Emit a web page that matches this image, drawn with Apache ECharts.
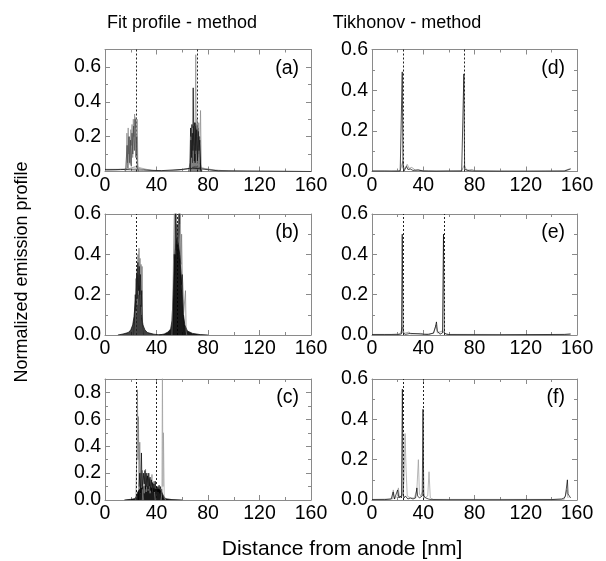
<!DOCTYPE html>
<html><head><meta charset="utf-8">
<script src="https://cdn.jsdelivr.net/npm/echarts@6/dist/echarts.min.js"></script>
<style>html,body{margin:0;padding:0;background:#fff}#c{width:606px;height:561px}</style>
</head><body><div id="c"></div><script>
// ---- axis / text data ----
const xTicks = [0, 40, 80, 120, 160];
const colTitles = ['Fit profile - method', 'Tikhonov - method'];
const panelLabels = ['(a)', '(b)', '(c)', '(d)', '(e)', '(f)'];
const yMaxes = [0.7, 0.6, 0.9, 0.6, 0.6, 0.6];
const xName = 'Distance from anode [nm]';
const yName = 'Normalized emission profile';

// ---- dashed reference positions (nm) ----
const refA = [24, 72];
const refB = [24, 56];
const refC = [24, 40];
const refD = [24, 72];
const refE = [24, 56];
const refF = [24, 40];

// ---- panel (a) ----
const aBroad1 = [[0,0.008],[8,0.01],[16,0.015],[22,0.02],[26,0.018],[32,0.01],[40,0.004],[50,0.004],[58,0.01],[66,0.018],[72,0.022],[78,0.016],[86,0.008],[96,0.003],[110,0.001],[160,0]];
const aBroad2 = [[0,0.005],[10,0.008],[18,0.014],[24,0.03],[28,0.02],[36,0.006],[46,0.002],[56,0.006],[64,0.014],[70,0.03],[76,0.02],[84,0.006],[100,0.001],[160,0]];
const aBroad3 = [[0,0.012],[12,0.012],[20,0.01],[30,0.008],[44,0.005],[60,0.012],[68,0.02],[74,0.015],[88,0.004],[160,0]];
const aPk1a = [[15,0],[16.5,0.02],[17,0.22],[17.5,0.05],[18,0.25],[18.5,0.1],[19,0.2],[19.5,0.04],[20,0.24],[20.5,0.15],[21,0.27],[21.5,0.08],[22,0.3],[22.5,0.2],[23,0.33],[23.5,0.25],[24,0.31],[24.5,0.1],[25,0.3],[25.5,0.05],[26,0]];
const aPk1b = [[16,0],[17.2,0.15],[17.8,0.02],[18.6,0.2],[19.2,0.05],[19.8,0.18],[20.4,0.03],[21,0.22],[21.6,0.1],[22.2,0.26],[22.8,0.12],[23.4,0.3],[24,0.08],[24.6,0.2],[25.2,0.02],[26,0]];
const aPk2a = [[65,0],[66,0.05],[66.5,0.25],[67,0.1],[67.5,0.27],[68,0.05],[68.5,0.48],[69,0.15],[69.5,0.28],[70,0.05],[70.5,0.26],[71,0.1],[71.5,0.27],[72,0.08],[72.5,0.25],[73,0.1],[73.5,0.2],[74,0.05],[75,0]];
const aPk2b = [[66,0],[66.8,0.2],[67.3,0.02],[68,0.25],[68.6,0.05],[69.2,0.26],[69.8,0.1],[70.5,0.67],[71,0.05],[71.6,0.3],[72.2,0.02],[72.8,0.28],[73.4,0.05],[74.2,0.35],[74.8,0.02],[75.5,0]];
const aPk2c = [[66.2,0],[66.7,0.18],[67.2,0.08],[67.8,0.22],[68.3,0.12],[68.9,0.26],[69.4,0.06],[70,0.28],[70.6,0.12],[71.2,0.24],[71.8,0.06],[72.4,0.23],[73,0.12],[73.6,0.18],[74.2,0.02],[74.8,0]];
const aPk2d = [[66.4,0],[67,0.12],[67.4,0.2],[68,0.1],[68.4,0.18],[69,0.22],[69.6,0.15],[70.2,0.2],[70.8,0.25],[71.4,0.16],[72,0.2],[72.6,0.14],[73.2,0.2],[73.8,0.1],[74.5,0]];

// ---- panel (b) ----
const bBase1 = [[10,0],[14,0.005],[18,0.012],[20,0.025],[21.5,0.05],[22.5,0.09],[23.5,0.16],[24.5,0.24],[25.5,0.3],[26.5,0.26],[27.5,0.17],[28.5,0.09],[29.5,0.05],[31,0.025],[33,0.012],[38,0.004],[44,0]];
const bPk1a = [[23,0],[23.6,0.15],[24,0.28],[24.4,0.1],[24.8,0.33],[25.2,0.15],[25.6,0.4],[26,0.2],[26.4,0.43],[26.8,0.25],[27.2,0.38],[27.6,0.15],[28,0.35],[28.4,0.1],[28.8,0.34],[29.2,0.05],[30,0]];
const bPk1b = [[22.5,0],[23.5,0.2],[24,0.12],[24.6,0.3],[25,0.18],[25.5,0.36],[26,0.22],[26.6,0.34],[27,0.2],[27.5,0.3],[28,0.14],[28.5,0.22],[29,0.06],[30,0]];
const bBase2 = [[42,0],[46,0.005],[49,0.015],[51,0.03],[52,0.07],[53,0.2],[54,0.38],[55,0.45],[56,0.48],[57,0.45],[58,0.4],[59,0.3],[60,0.2],[61,0.1],[62,0.05],[64,0.02],[68,0.008],[74,0.002],[80,0]];
const bPk2a = [[52,0],[53,0.3],[53.5,0.5],[54,0.65],[54.5,0.4],[55,0.55],[55.5,0.62],[56,0.45],[57,0.5],[57.5,0.65],[58,0.55],[58.5,0.62],[59,0.35],[59.5,0.5],[60,0.3],[60.5,0.25],[61,0.1],[62.5,0.22],[63,0.02],[63.5,0]];
const bPk2b = [[53,0],[53.8,0.4],[54.3,0.3],[54.8,0.62],[55.3,0.42],[56,0.55],[56.5,0.38],[57,0.45],[57.6,0.62],[58.2,0.4],[58.8,0.35],[59.4,0.25],[60,0.3],[60.6,0.12],[61.5,0]];

// ---- panel (c) ----
const cBase = [[15,0],[20,0.005],[23,0.01],[24.5,0.03],[25.5,0.06],[27,0.08],[30,0.1],[33,0.1],[36,0.09],[39,0.08],[42,0.08],[44,0.06],[45.5,0.03],[47,0.01],[52,0.003],[60,0]];
const cSpk1 = [[24,0],[24.8,0.4],[25.2,0.82],[25.6,0.3],[26,0.62],[26.4,0.1],[27,0.43],[27.5,0.05],[28,0.2],[28.5,0.1],[29,0.22],[29.5,0.05],[30,0]];
const cSpk2 = [[26,0],[27,0.2],[27.6,0.05],[28.3,0.35],[28.8,0.08],[29.8,0.2],[30.5,0.12],[31,0.22],[31.5,0.08],[32,0.2],[32.5,0.1],[33,0.18],[33.5,0.08],[34,0.2],[34.5,0.1],[35,0.17],[35.5,0.07],[36,0.15],[36.5,0.06],[37,0.13],[37.5,0.06],[38,0.12],[38.5,0.06],[39,0.14],[39.5,0.07],[40,0.1],[40.5,0.06],[41,0.1],[41.5,0.06],[42,0.11],[42.5,0.05],[43,0.1],[43.5,0.06],[44,0.08],[44.5,0.02],[45,0]];
const cSpk3 = [[43.5,0],[44.2,0.05],[44.6,0.95],[45,0.1],[45.4,0.5],[46,0.02],[47,0]];
const cSpk4 = [[29,0],[30,0.18],[30.5,0.05],[31.5,0.23],[32,0.06],[33,0.2],[33.5,0.07],[34.5,0.16],[35,0.05],[36.5,0.19],[37,0.06],[38,0.14],[38.5,0.05],[39,0]];

// ---- panel (d) ----
const dT1 = [[0,0.002],[10,0.002],[20,0.001],[22,0.002],[23,0.01],[23.6,0.49],[24.2,0.02],[25,0.003],[26,0.01],[27,0.025],[28,0.01],[30,0.012],[32,0.005],[36,0.008],[40,0.002],[50,0.001],[60,0.002],[70,0.002],[71,0.01],[71.7,0.48],[72.3,0.01],[73,0.002],[76,0.004],[80,0.002],[100,0.001],[150,0.002],[154,0.01],[155,0.012]];
const dT2 = [[0,0.003],[15,0.003],[22,0.005],[24,0.05],[25,0.01],[26,0.02],[27.5,0.035],[29,0.015],[31,0.02],[34,0.006],[44,0.004],[60,0.003],[70,0.004],[72,0.03],[74,0.005],[78,0.01],[80,0.004],[120,0.002],[150,0.003],[155,0.015]];

// ---- panel (e) ----
const eT1 = [[0,0.002],[10,0.002],[20,0.002],[23,0.005],[23.6,0.5],[24.2,0.01],[26,0.003],[30,0.008],[31,0.002],[40,0.004],[44,0.002],[48,0.01],[49.5,0.04],[50.3,0.065],[51,0.02],[53,0.004],[55,0.01],[55.8,0.5],[56.4,0.01],[58,0.004],[60,0.002],[100,0.001],[150,0.003],[155,0.005]];
const eT2 = [[0,0.003],[15,0.003],[22,0.006],[24,0.04],[25,0.008],[29,0.015],[30,0.005],[38,0.008],[41,0.004],[48,0.008],[50,0.05],[51,0.01],[55,0.02],[57,0.008],[60,0.003],[150,0.002],[155,0.004]];

// ---- panel (f) ----
const fT1 = [[0,0.002],[10,0.002],[15,0.005],[16.5,0.04],[17.5,0.005],[19,0.01],[20,0.05],[21,0.01],[22,0.02],[23,0.01],[23.7,0.55],[24.3,0.02],[25,0.01],[26,0.02],[28,0.005],[30,0.01],[32,0.005],[34,0.01],[35,0.06],[35.6,0.02],[37,0.01],[38,0.01],[39.2,0.02],[39.8,0.45],[40.4,0.02],[42,0.01],[44,0.005],[46,0.002],[60,0.001],[100,0.001],[140,0.002],[148,0.005],[150,0.01],[151,0.02],[152.5,0.1],[153,0.03],[154,0.02],[155,0.01]];
const fT2 = [[0,0.003],[16,0.005],[16.6,0.05],[17.5,0.005],[20,0.02],[20.6,0.06],[21.5,0.01],[24,0.03],[25,0.1],[25.8,0.33],[26.6,0.15],[27.5,0.02],[30,0.01],[33,0.01],[35,0.05],[36.2,0.2],[37,0.03],[38,0.02],[40,0.05],[41,0.01],[43.5,0.02],[44.5,0.14],[45.5,0.01],[48,0.003],[150,0.003],[152,0.05],[153,0.01]];

// ---- layout ----
const colLeft = [105, 372];
const colWidth = [206, 205];
const rowTop = [49.5, 214, 379];
const rowHeight = [122, 121, 121];
const FONT = 'Liberation Sans, Arial, sans-serif';

const panelSeries = [
  {refs: refA, traces: [[aBroad1,'#777',0],[aBroad2,'#999',0],[aBroad3,'#000',0],[aPk1a,'#888',0],[aPk1b,'#444',0],[aPk2d,'#000',0.5],[aPk2a,'#000',0],[aPk2b,'#888',0],[aPk2c,'#111',0]]},
  {refs: refB, traces: [[bBase1,'#000',0.75],[bPk1a,'#777',0],[bPk1b,'#111',0],[bBase2,'#000',0.9],[bPk2a,'#777',0],[bPk2b,'#111',0]]},
  {refs: refC, traces: [[cBase,'#000',0.9],[cSpk1,'#777',0],[cSpk4,'#888',0],[cSpk2,'#000',0],[cSpk3,'#999',0]]},
  {refs: refD, traces: [[dT2,'#888',0],[dT1,'#000',0]]},
  {refs: refE, traces: [[eT2,'#888',0],[eT1,'#000',0]]},
  {refs: refF, traces: [[fT2,'#999',0],[fT1,'#000',0]]}
];

const grids = [], xAxes = [], yAxes = [], series = [], graphics = [];
const axisGray = '#8a8a8a';
for (let p = 0; p < 6; p++) {
  const col = Math.floor(p / 3), row = p % 3;
  grids.push({left: colLeft[col], top: rowTop[row], width: colWidth[col], height: rowHeight[row]});
  const common = {
    axisLine: {show: true, onZero: false, lineStyle: {color: axisGray, width: 1}},
    axisTick: {show: true, inside: true, length: 5, lineStyle: {color: axisGray}},
    minorTick: {show: true, splitNumber: 2, length: 3, lineStyle: {color: axisGray}},
    splitLine: {show: false}
  };
  xAxes.push(Object.assign({}, common, {gridIndex: p, type: 'value', min: xTicks[0], max: xTicks[xTicks.length-1], interval: 40, position: 'bottom',
    axisLabel: {show: true, color: '#000', fontSize: 19.5, fontFamily: FONT, margin: 4}}));
  xAxes.push(Object.assign({}, common, {gridIndex: p, type: 'value', min: 0, max: 160, interval: 40, position: 'top', axisLabel: {show: false}}));
  yAxes.push(Object.assign({}, common, {gridIndex: p, type: 'value', min: 0, max: yMaxes[p], interval: 0.2, position: 'left',
    axisLabel: {show: true, color: '#000', fontSize: 19.5, fontFamily: FONT, margin: 4, showMaxLabel: Math.abs(yMaxes[p] - 0.6) < 1e-9, formatter: v => v.toFixed(1)}}));
  yAxes.push(Object.assign({}, common, {gridIndex: p, type: 'value', min: 0, max: yMaxes[p], interval: 0.2, position: 'right', axisLabel: {show: false}}));

  const ps = panelSeries[p];
  ps.traces.forEach((t, i) => {
    const s = {
      type: 'line', xAxisIndex: 2*p, yAxisIndex: 2*p, data: t[0], showSymbol: false, symbol: 'none',
      lineStyle: {color: t[1], width: 0.7}, itemStyle: {color: t[1]}, z: 2 + i, animation: false, clip: true
    };
    if (t[2] > 0) s.areaStyle = {color: t[1], opacity: t[2]};
    series.push(s);
  });
  series.push({
    type: 'line', xAxisIndex: 2*p, yAxisIndex: 2*p, data: [[0,0]], showSymbol: false, symbol: 'none',
    lineStyle: {opacity: 0}, z: 20, animation: false,
    markLine: {silent: true, symbol: ['none','none'], label: {show: false},
      lineStyle: {color: '#222', type: [2, 2], width: 1},
      data: ps.refs.map(v => ({xAxis: v}))}
  });
  graphics.push({type: 'text', x: colLeft[col] + colWidth[col] - 12, y: rowTop[row] + 19,
    style: {text: panelLabels[p], fontSize: 19.5, fontFamily: FONT, fill: '#000', align: 'right', verticalAlign: 'middle'}});
}
graphics.push({type: 'text', x: 182, y: 23, style: {text: colTitles[0], fontSize: 18, fontFamily: FONT, fill: '#000', align: 'center', verticalAlign: 'middle'}});
graphics.push({type: 'text', x: 407, y: 23, style: {text: colTitles[1], fontSize: 18, fontFamily: FONT, fill: '#000', align: 'center', verticalAlign: 'middle'}});
graphics.push({type: 'text', x: 342, y: 549, style: {text: xName, fontSize: 21, fontFamily: FONT, fill: '#000', align: 'center', verticalAlign: 'middle'}});
graphics.push({type: 'text', x: 22, y: 272, rotation: Math.PI/2, style: {text: yName, fontSize: 18, fontFamily: FONT, fill: '#000', align: 'center', verticalAlign: 'middle'}});

const chart = echarts.init(document.getElementById('c'), null, {renderer: 'canvas'});
chart.setOption({animation: false, backgroundColor: '#fff', grid: grids, xAxis: xAxes, yAxis: yAxes, series: series, graphic: graphics});
</script></body></html>
